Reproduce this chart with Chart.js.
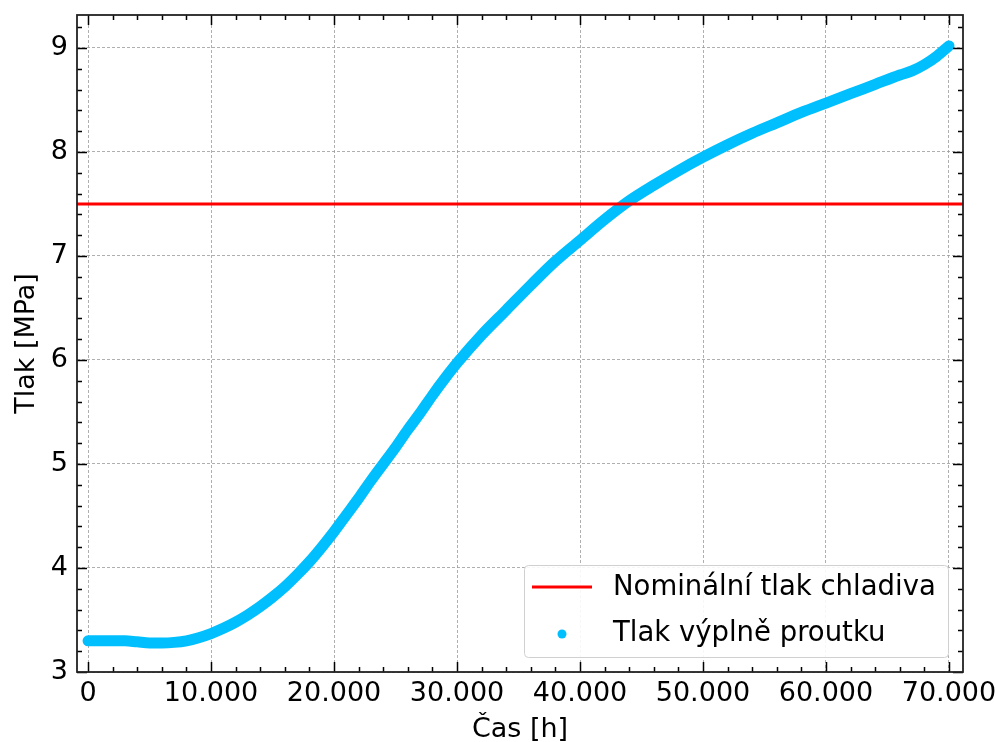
<!DOCTYPE html>
<html>
<head>
<meta charset="utf-8">
<script src="https://cdn.jsdelivr.net/npm/chart.js@4.4.0/dist/chart.umd.min.js"></script>
<style>
  html, body { margin: 0; padding: 0; background: #fff; }
  #wrap { width: 995px; height: 742px; }
</style>
</head>
<body>
<div id="wrap"><canvas id="c" width="995" height="742"></canvas></div>
<script>
// 데이터: 시간 [h] / 압력 [MPa]
const hours = [
  0, 1000, 2000, 3000, 4000, 5000, 6000, 7000, 8000, 9000,
  10000, 11000, 12000, 13000, 14000, 15000, 16000, 17000, 18000, 19000,
  20000, 21000, 22000, 23000, 24000, 25000, 26000, 27000, 28000, 29000,
  30000, 32000, 34000, 36000, 38000, 40000, 42000, 44000, 46000, 48000,
  50000, 52000, 54000, 56000, 58000, 60000, 62000, 64000, 66000, 67000,
  68000, 69000, 70000
];
const pressure = [
  3.30, 3.30, 3.30, 3.30, 3.29, 3.28, 3.28, 3.285, 3.30, 3.33,
  3.37, 3.42, 3.48, 3.55, 3.63, 3.72, 3.82, 3.935, 4.06, 4.20,
  4.35, 4.51, 4.67, 4.84, 5.00, 5.16, 5.33, 5.49, 5.66, 5.82,
  5.97, 6.24, 6.48, 6.72, 6.95, 7.15, 7.35, 7.53, 7.68, 7.82,
  7.95, 8.07, 8.18, 8.28, 8.38, 8.47, 8.56, 8.65, 8.74, 8.78,
  8.84, 8.92, 9.02
];
const nominalPressure = 7.5;

const xTicks = [0, 10000, 20000, 30000, 40000, 50000, 60000, 70000];
const yTicks = [3, 4, 5, 6, 7, 8, 9];
const xRange = [-900, 71140];
const yRange = [3, 9.317];

const labels = ['Nominální tlak chladiva', 'Tlak výplně proutku'];
const xTitle = 'Čas [h]';
const yTitle = 'Tlak [MPa]';

const FONT = 'DejaVu Sans';
const red = '#ff0000';
const cyan = '#00bfff';

const xMinor = [];
for (let v = 0; v <= 70000; v += 2000) xMinor.push(v);
const yMinor = [];
for (let i = 0; i <= 31; i++) yMinor.push(+(3 + i * 0.2).toFixed(1));

const fmtThousands = v => String(v).replace(/\B(?=(\d{3})+(?!\d))/g, '.');

// 안쪽 눈금 + 테두리
const tickMarks = {
  id: 'tickMarks',
  afterDatasetsDraw(chart) {
    const { ctx, chartArea: a, scales: { x, y } } = chart;
    ctx.save();
    ctx.strokeStyle = '#000';
    ctx.lineWidth = 1.5;
    ctx.beginPath();
    xMinor.forEach(v => {
      const px = Math.round(x.getPixelForValue(v)) + 0.5;
      const len = xTicks.includes(v) ? 10 : 5;
      ctx.moveTo(px, a.bottom); ctx.lineTo(px, a.bottom - len);
      ctx.moveTo(px, a.top); ctx.lineTo(px, a.top + len);
    });
    yMinor.forEach(v => {
      const py = Math.round(y.getPixelForValue(v)) + 0.5;
      const len = yTicks.includes(v) ? 10 : 5;
      ctx.moveTo(a.left, py); ctx.lineTo(a.left + len, py);
      ctx.moveTo(a.right, py); ctx.lineTo(a.right - len, py);
    });
    ctx.stroke();
    ctx.lineWidth = 1.8;
    ctx.strokeStyle = '#222';
    ctx.strokeRect(a.left, a.top, a.width, a.height);
    ctx.restore();
  }
};

// 범례 박스 (matplotlib 스타일)
const legendBox = {
  id: 'legendBox',
  afterDraw(chart) {
    const { ctx } = chart;
    const bx = 524, by = 565, bw = 424, bh = 92;
    ctx.save();
    ctx.fillStyle = 'rgba(255,255,255,0.9)';
    ctx.strokeStyle = '#d0d0d0';
    ctx.lineWidth = 1;
    ctx.beginPath();
    ctx.roundRect(bx + 0.5, by + 0.5, bw, bh, 4);
    ctx.fill();
    ctx.stroke();

    ctx.strokeStyle = red;
    ctx.lineWidth = 3;
    ctx.beginPath();
    ctx.moveTo(532, 587); ctx.lineTo(592, 587);
    ctx.stroke();

    ctx.fillStyle = cyan;
    ctx.beginPath();
    ctx.arc(562, 634, 4.5, 0, Math.PI * 2);
    ctx.fill();

    ctx.fillStyle = '#000';
    ctx.font = `27.5px "${FONT}"`;
    ctx.textBaseline = 'middle';
    ctx.fillText(labels[0], 613, 588);
    ctx.fillText(labels[1], 613, 634);
    ctx.restore();
  }
};

const gridCfg = {
  color: '#9a9a9a',
  lineWidth: 0.8,
  drawTicks: false
};

new Chart(document.getElementById('c').getContext('2d'), {
  type: 'line',
  data: {
    datasets: [
      {
        label: labels[0],
        data: [{ x: xRange[0], y: nominalPressure }, { x: xRange[1], y: nominalPressure }],
        borderColor: red,
        borderWidth: 3,
        pointRadius: 0,
        order: 0
      },
      {
        label: labels[1],
        data: hours.map((h, i) => ({ x: h, y: pressure[i] })),
        borderColor: cyan,
        borderWidth: 11,
        borderCapStyle: 'round',
        borderJoinStyle: 'round',
        cubicInterpolationMode: 'monotone',
        pointRadius: 0,
        order: 1
      }
    ]
  },
  options: {
    responsive: false,
    animation: false,
    devicePixelRatio: 1,
    layout: { padding: { top: 15, left: 0, right: 32, bottom: 0 } },
    plugins: {
      legend: { display: false },
      tooltip: { enabled: false }
    },
    scales: {
      x: {
        type: 'linear',
        min: xRange[0],
        max: xRange[1],
        afterBuildTicks: s => { s.ticks = xTicks.map(v => ({ value: v })); },
        afterFit: s => { s.height = 70; s.paddingLeft = 0; s.paddingRight = 0; },
        grid: { ...gridCfg },
        border: { display: false, dash: [3, 2] },
        ticks: {
          color: '#000',
          font: { family: FONT, size: 27 },
          padding: 6,
          maxRotation: 0,
          callback: v => fmtThousands(v)
        },
        title: {
          display: true,
          text: xTitle,
          color: '#000',
          font: { family: FONT, size: 27 },
          padding: { top: 0, bottom: -4 }
        }
      },
      y: {
        min: yRange[0],
        max: yRange[1],
        afterBuildTicks: s => { s.ticks = yTicks.map(v => ({ value: v })); },
        afterFit: s => { s.width = 77; s.paddingTop = 0; s.paddingBottom = 0; },
        grid: { ...gridCfg },
        border: { display: false, dash: [3, 2] },
        ticks: {
          color: '#000',
          font: { family: FONT, size: 27 },
          padding: 9,
          callback: v => String(v)
        },
        title: {
          display: true,
          text: yTitle,
          color: '#000',
          font: { family: FONT, size: 27 },
          padding: { top: 11, bottom: 0 }
        }
      }
    }
  },
  plugins: [tickMarks, legendBox]
});
</script>
</body>
</html>
